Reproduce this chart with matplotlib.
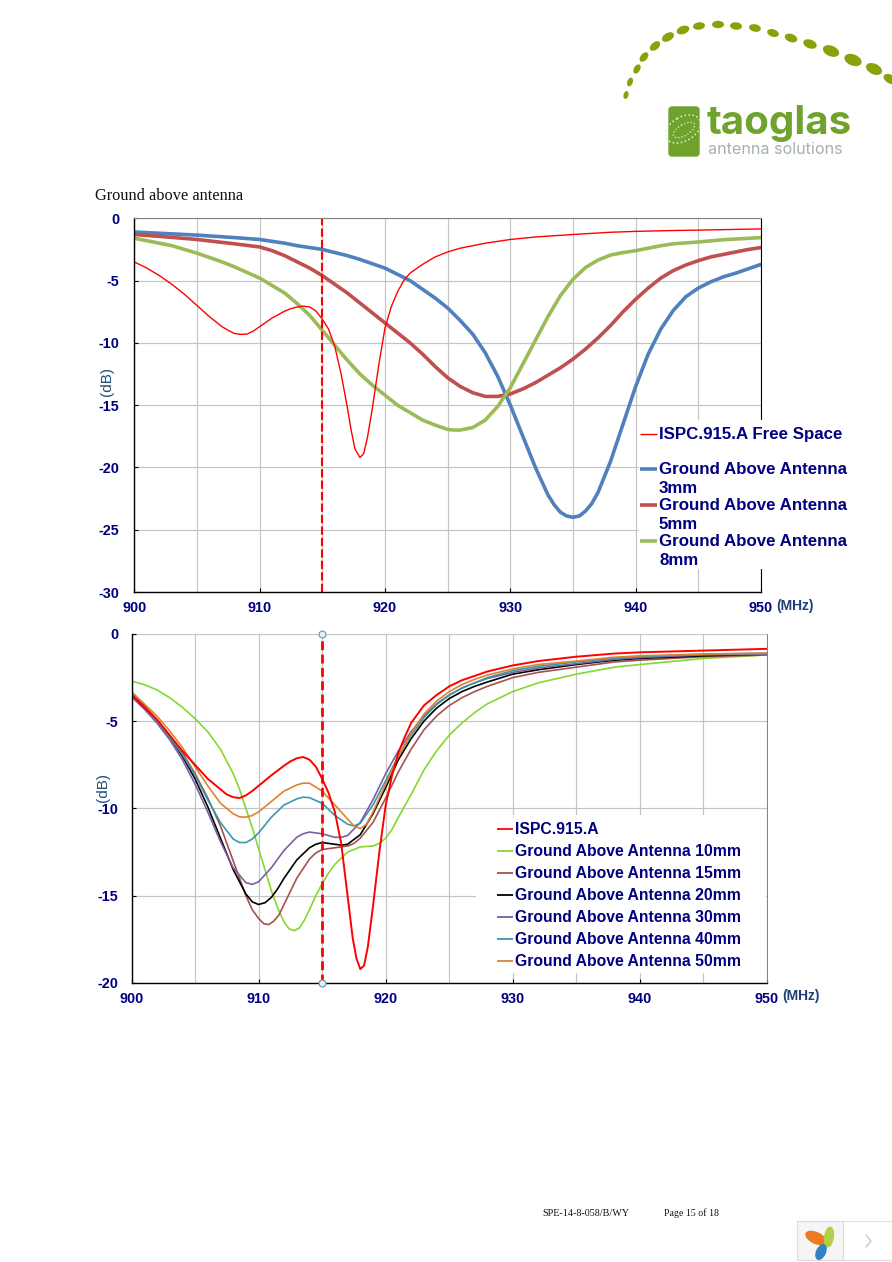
import matplotlib
matplotlib.use('Agg')
import matplotlib.pyplot as plt
from matplotlib.patches import Ellipse, Rectangle, FancyBboxPatch

# top chart: (MHz, dB)
free_x = [900,901,902,903,904,905,906,906.5,907,907.5,908,908.5,909,909.5,910,911,912,912.5,913,913.5,914,914.5,915,915.5,916,916.5,917,917.3,917.6,918,918.3,918.6,919,919.5,920,920.5,921,921.5,922,923,924,925,926,927,928,929,930,932,935,938,940,943,945,950]
free_y = [-3.5,-4.0,-4.6,-5.3,-6.1,-7.0,-7.9,-8.3,-8.7,-9.0,-9.25,-9.32,-9.3,-9.05,-8.7,-8.0,-7.45,-7.25,-7.12,-7.05,-7.12,-7.45,-8.1,-8.9,-10.3,-12.5,-15.2,-17,-18.5,-19.2,-18.9,-17.6,-15.2,-11.8,-8.8,-7.1,-5.9,-5,-4.4,-3.7,-3.1,-2.7,-2.4,-2.2,-2.0,-1.85,-1.7,-1.5,-1.3,-1.12,-1.05,-0.98,-0.95,-0.85]
g3_x = [900,902,905,908,910,911,912,913,914,915,916,917,918,919,920,921,922,923,924,925,926,927,928,929,930,931,932,933,933.5,934,934.5,935,935.5,936,936.5,937,938,939,940,941,942,943,944,945,946,947,948,949,950]
g3_y = [-1.1,-1.2,-1.35,-1.55,-1.7,-1.85,-2.0,-2.2,-2.35,-2.5,-2.75,-3.0,-3.3,-3.65,-4.0,-4.5,-5.0,-5.7,-6.4,-7.2,-8.2,-9.3,-10.8,-12.7,-15,-17.5,-20,-22.2,-23.0,-23.6,-23.9,-24.0,-23.9,-23.5,-22.9,-22,-19.5,-16.5,-13.5,-10.9,-8.9,-7.4,-6.3,-5.6,-5.1,-4.7,-4.4,-4.05,-3.7]
g5_x = [900,902,905,908,910,911,912,913,914,915,916,917,918,919,920,921,922,923,924,925,926,927,928,929,930,931,932,933,934,935,936,937,938,939,940,941,942,943,944,945,946,947,948,949,950]
g5_y = [-1.3,-1.45,-1.7,-2.05,-2.3,-2.6,-3.0,-3.5,-4.0,-4.6,-5.3,-6.0,-6.8,-7.6,-8.4,-9.2,-10,-10.9,-11.9,-12.8,-13.5,-14,-14.3,-14.3,-14.1,-13.7,-13.2,-12.6,-12,-11.3,-10.5,-9.6,-8.6,-7.5,-6.5,-5.6,-4.8,-4.2,-3.75,-3.4,-3.1,-2.9,-2.7,-2.5,-2.35]
g8_x = [900,901,902,903,904,905,906,907,908,909,910,911,912,913,914,915,916,917,918,919,920,921,922,923,924,925,925.5,926,927,928,929,930,931,932,933,934,935,936,937,938,939,940,941,942,943,945,947,950]
g8_y = [-1.6,-1.8,-2,-2.2,-2.5,-2.8,-3.15,-3.5,-3.9,-4.35,-4.8,-5.4,-6,-6.85,-7.8,-9,-10.2,-11.4,-12.5,-13.4,-14.2,-15,-15.6,-16.2,-16.6,-16.95,-17,-17,-16.8,-16.2,-15.1,-13.6,-11.7,-9.8,-7.9,-6.2,-4.9,-3.95,-3.35,-2.95,-2.75,-2.6,-2.4,-2.2,-2.05,-1.9,-1.72,-1.55]

# bottom chart
ispc_x = [900,901,902,903,904,905,906,907,907.5,908,908.5,909,909.5,910,911,912,912.5,913,913.5,914,914.5,915,915.5,916,916.5,917,917.4,917.7,918,918.3,918.6,919,919.5,920,920.5,921,921.5,922,923,924,925,926,927,928,930,932,935,938,940,945,950]
ispc_y = [-3.5,-4.2,-4.9,-5.8,-6.7,-7.5,-8.3,-8.9,-9.2,-9.35,-9.4,-9.25,-9.0,-8.7,-8.1,-7.55,-7.3,-7.12,-7.05,-7.2,-7.6,-8.3,-9.1,-10.2,-12,-15,-17.4,-18.6,-19.2,-19,-17.9,-15.6,-12.5,-9.8,-8.1,-6.8,-5.9,-5.1,-4.1,-3.5,-3.0,-2.65,-2.4,-2.15,-1.8,-1.55,-1.3,-1.12,-1.05,-0.95,-0.85]
m10_x = [900,901,902,903,904,905,906,907,908,908.5,909,909.5,910,910.5,911,911.5,912,912.4,912.8,913.2,913.6,914,914.5,915,915.5,916,917,918,919,919.5,920,920.5,921,922,923,924,925,926,927,928,930,932,935,938,940,945,950]
m10_y = [-2.7,-2.9,-3.2,-3.65,-4.2,-4.85,-5.6,-6.6,-8,-8.9,-10,-11.1,-12.3,-13.5,-14.7,-15.7,-16.5,-16.9,-17.0,-16.85,-16.4,-15.8,-15.0,-14.3,-13.7,-13.2,-12.5,-12.2,-12.15,-12.0,-11.7,-11.2,-10.5,-9.2,-7.8,-6.7,-5.8,-5.1,-4.5,-4.0,-3.3,-2.8,-2.3,-1.9,-1.75,-1.4,-1.2]
m15_x = [900,901,902,903,904,905,906,907,908,909,909.5,910,910.4,910.8,911.2,911.6,912,913,914,914.5,915,916,917,917.5,918,919,920,921,922,923,924,925,926,927,928,930,932,935,938,940,945,950]
m15_y = [-3.4,-4.1,-4.9,-5.8,-6.8,-8.0,-9.4,-11,-13,-15,-15.8,-16.3,-16.6,-16.65,-16.45,-16.1,-15.5,-14,-12.9,-12.55,-12.35,-12.25,-12.15,-12,-11.7,-10.8,-9.4,-7.9,-6.6,-5.5,-4.7,-4.1,-3.65,-3.3,-3,-2.5,-2.2,-1.9,-1.6,-1.5,-1.3,-1.2]
m20_x = [900,901,902,903,904,905,906,907,908,909,909.5,910,910.5,911,911.5,912,913,914,914.5,915,916,916.5,917,918,919,920,921,922,923,924,925,926,927,928,930,932,935,938,940,945,950]
m20_y = [-3.5,-4.2,-5,-5.9,-7,-8.3,-9.9,-11.7,-13.5,-14.9,-15.35,-15.5,-15.4,-15.1,-14.6,-14,-12.95,-12.25,-12.05,-11.95,-12.05,-12.1,-12.05,-11.5,-10.3,-8.8,-7.2,-6,-5,-4.25,-3.7,-3.3,-3,-2.75,-2.3,-2.05,-1.75,-1.5,-1.4,-1.25,-1.15]
m30_x = [900,901,902,903,904,905,906,907,908,909,909.5,910,911,912,913,913.5,914,915,916,916.5,917,918,919,920,921,922,923,924,925,926,927,928,930,932,935,938,940,945,950]
m30_y = [-3.6,-4.3,-5.1,-6.05,-7.2,-8.6,-10.2,-11.9,-13.4,-14.25,-14.35,-14.2,-13.4,-12.4,-11.65,-11.45,-11.35,-11.45,-11.65,-11.65,-11.55,-10.8,-9.5,-8,-6.7,-5.6,-4.7,-4,-3.5,-3.1,-2.8,-2.55,-2.2,-1.95,-1.7,-1.45,-1.35,-1.2,-1.15]
m40_x = [900,901,902,903,904,905,906,907,908,908.5,909,909.5,910,911,912,913,913.5,914,915,916,917,917.5,918,919,920,921,922,923,924,925,926,927,928,930,932,935,938,940,945,950]
m40_y = [-3.5,-4.2,-5,-5.9,-6.9,-8.1,-9.5,-10.8,-11.75,-11.95,-11.95,-11.75,-11.4,-10.5,-9.8,-9.45,-9.35,-9.38,-9.7,-10.4,-10.9,-11,-10.85,-9.8,-8.4,-7,-5.8,-4.8,-4.05,-3.5,-3.1,-2.8,-2.5,-2.1,-1.85,-1.6,-1.4,-1.3,-1.15,-1.1]
m50_x = [900,901,902,903,904,905,906,907,908,908.5,909,909.5,910,911,912,913,913.5,914,915,916,917,917.5,918,918.5,919,920,921,922,923,924,925,926,927,928,930,932,935,938,940,945,950]
m50_y = [-3.3,-4,-4.7,-5.55,-6.5,-7.6,-8.7,-9.7,-10.3,-10.48,-10.5,-10.4,-10.2,-9.6,-9,-8.65,-8.55,-8.55,-9,-9.8,-10.6,-11,-11.15,-10.9,-10.2,-8.6,-7,-5.7,-4.6,-3.85,-3.3,-2.9,-2.6,-2.35,-2,-1.75,-1.55,-1.33,-1.25,-1.15,-1.1]

x_ticks = [900,910,920,930,940,950]
x_grid = [905,915,925,935,945]
top_yticks = [0,-5,-10,-15,-20,-25,-30]
bot_yticks = [0,-5,-10,-15,-20]
marker_freq = 915

top_names = ['ISPC.915.A Free Space','Ground Above Antenna\n3mm','Ground Above Antenna\n5mm','Ground Above Antenna\n8mm']
bot_names = ['ISPC.915.A','Ground Above Antenna 10mm','Ground Above Antenna 15mm','Ground Above Antenna 20mm','Ground Above Antenna 30mm','Ground Above Antenna 40mm','Ground Above Antenna 50mm']

RED = '#ff0000'
BLUE = '#4f81bd'
BRICK = '#c0504d'
OLIVE = '#9bbb59'
LIME = '#84d82f'
BROWN = '#a5524f'
PURPLE = '#7b5fa0'
TEAL = '#3a97ad'
ORANGE = '#e0812f'
NAVY = '#000080'
GRID = '#c4c4c4'
W, H = 892, 1262

plt.rcParams['font.family'] = ['Liberation Sans', 'DejaVu Sans']
plt.rcParams['axes.unicode_minus'] = False

fig = plt.figure(figsize=(W/100, H/100), dpi=100)


def make_axes(l, t, r, b):
    return fig.add_axes([l/W, 1-b/H, (r-l)/W, (b-t)/H])


def style(ax, yticks, ymin, ypad):
    ax.set_xlim(900, 950)
    ax.set_ylim(ymin, 0)
    ax.set_xticks(x_ticks)
    ax.set_yticks(yticks)
    ax.set_xticks(x_grid, minor=True)
    ax.grid(True, which='both', color=GRID, lw=0.85)
    ax.set_axisbelow(True)
    ax.tick_params(which='minor', length=0)
    ax.tick_params(which='major', direction='in', length=3, width=0.8, color='black',
                   labelsize=10.4, labelcolor=NAVY)
    ax.tick_params(axis='x', which='major', pad=6.5)
    ax.tick_params(axis='y', which='major', pad=ypad)
    for lab in ax.get_xticklabels() + ax.get_yticklabels():
        lab.set_fontweight('bold')
    for s in ['left', 'bottom']:
        ax.spines[s].set_linewidth(1.0)


# top chart
ax1 = make_axes(134.3, 218.3, 761, 592)
style(ax1, top_yticks, -30, 10.5)
ax1.spines['top'].set_color('#808080')
ax1.plot(g3_x, g3_y, color=BLUE, lw=2.6)
ax1.plot(g5_x, g5_y, color=BRICK, lw=2.6)
ax1.plot(g8_x, g8_y, color=OLIVE, lw=2.6)
ax1.plot(free_x, free_y, color=RED, lw=1.0)
ax1.axvline(marker_freq, color=RED, lw=1.5, ls=(0, (4, 1.5)))

# bottom chart
ax2 = make_axes(131.5, 634, 767, 983)
style(ax2, bot_yticks, -20, 9.5)
ax2.spines['top'].set_visible(False)
ax2.spines['right'].set_color('#808080')
ax2.spines['right'].set_linewidth(0.7)
ax2.plot(m10_x, m10_y, color=LIME, lw=1.2)
ax2.plot(m15_x, m15_y, color=BROWN, lw=1.2)
ax2.plot(m20_x, m20_y, color='black', lw=1.2)
ax2.plot(m30_x, m30_y, color=PURPLE, lw=1.2)
ax2.plot(m40_x, m40_y, color=TEAL, lw=1.2)
ax2.plot(m50_x, m50_y, color=ORANGE, lw=1.2)
ax2.plot(ispc_x, ispc_y, color=RED, lw=1.4)
ax2.axvline(marker_freq, color=RED, lw=2.0, ls=(0, (3.2, 1.6)))
ax2.plot([marker_freq, marker_freq], [0, -20], ls='none', marker='o', ms=5, mfc='#e4eef5', mec='#6f93a8', mew=0.8, clip_on=False, zorder=5)

# page overlay in pixel coords: legends, logo, captions
pg = fig.add_axes([0, 0, 1, 1], facecolor='none')
pg.set_xlim(0, W)
pg.set_ylim(H, 0)
pg.axis('off')

pg.text(95, 196, 'Ground above antenna', family='Liberation Serif', fontsize=11.8, va='center', color='#111111')

# top legend
pg.add_patch(Rectangle((639, 420), 212, 149, fc='white', ec='none'))
leg_colors = [RED, BLUE, BRICK, OLIVE]
leg_widths = [1.0, 2.6, 2.6, 2.6]
leg_ys = [434, 469, 505, 541]
for name, c, lw, y in zip(top_names, leg_colors, leg_widths, leg_ys):
    pg.plot([640, 657], [y, y], color=c, lw=lw, solid_capstyle='butt')
    pg.text(659, y-7 if '\n' in name else y, name, fontsize=12.2, fontweight='bold', color=NAVY,
            va='top' if '\n' in name else 'center', linespacing=1.33)

# bottom legend
pg.add_patch(Rectangle((476, 815), 290, 158, fc='white', ec='none'))
leg_colors = [RED, LIME, BROWN, 'black', PURPLE, TEAL, ORANGE]
leg_ys = [829, 851, 873, 895, 917, 939, 961]
for name, c, y in zip(bot_names, leg_colors, leg_ys):
    pg.plot([497, 513], [y, y], color=c, lw=1.3, solid_capstyle='butt')
    pg.text(515, y, name, fontsize=11.35, fontweight='bold', color=NAVY, va='center')

# axis captions
pg.text(107, 381, '(dB)', rotation=90, fontsize=11, color='#1f4e79', ha='center', va='center')
pg.text(103, 787, '(dB)', rotation=90, fontsize=11, color='#1f4e79', ha='center', va='center')
pg.text(776, 606, '(MHz)', fontsize=10, fontweight='bold', color='#1f3f79', va='center')
pg.text(782, 996, '(MHz)', fontsize=10, fontweight='bold', color='#1f3f79', va='center')

# footer
pg.text(542, 1213, 'SPE-14-8-058/B/WY', family='Liberation Serif', fontsize=7.3, va='center', color='#111111')
pg.text(664, 1213, 'Page 15 of 18', family='Liberation Serif', fontsize=7.1, va='center', color='#111111')

# logo arc
dot_x = [626,630,637,644,655,668,683,699,718,736,755,773,791,810,831,853,874,890]
dot_y = [95,82,69,57,46,37,30,26,24.5,26,28,33,38,44,51,60,69,79]
dot_w = [8,9,10,11,12,13,13,12,12,12,12,12,13,14,17,18,17,14]
dot_ang = [-75,-70,-60,-50,-40,-30,-20,-8,0,5,12,18,20,20,22,22,25,30]
for x, y, w, a in zip(dot_x, dot_y, dot_w, dot_ang):
    pg.add_patch(Ellipse((x, y), w, w*0.62, angle=a, fc='#86a30a', ec='none'))

pg.add_patch(FancyBboxPatch((669, 107), 30, 49, boxstyle='round,pad=0,rounding_size=3', fc='#6fa32e', ec='#6fa32e', lw=1.0))
pg.add_patch(Ellipse((684, 130), 24, 11, angle=-30, fc='none', ec='#e8f0d8', lw=0.9, ls=':'))
pg.add_patch(Ellipse((683, 129), 38, 24, angle=-30, fc='none', ec='#e8f0d8', lw=1.1, ls=':'))
pg.text(707, 123, 'taoglas', family='Inter', fontweight='bold', fontsize=29, color='#6fa32e', va='center')
pg.text(708, 150, 'antenna solutions', family='Inter', fontsize=11.6, color='#a7b0b5', va='center')

# viewer widget, bottom right
pg.add_patch(Rectangle((796.5, 1220.5), 46, 39, fc='#f5f5f5', ec='#dddddd', lw=0.8))
pg.add_patch(Rectangle((842.5, 1220.5), 49, 39, fc='white', ec='#dddddd', lw=0.8))
pg.add_patch(Ellipse((816, 1238), 23, 12, angle=25, fc='#ee7a22', ec='none'))
pg.add_patch(Ellipse((829, 1237), 10, 21, angle=8, fc='#b5cf45', ec='none'))
pg.add_patch(Ellipse((821, 1252), 10, 17, angle=25, fc='#2f84c8', ec='none'))
pg.plot([866, 871, 866], [1235, 1241, 1247], color='#bbbbbb', lw=0.8)

fig.savefig('out.png', dpi=100)
